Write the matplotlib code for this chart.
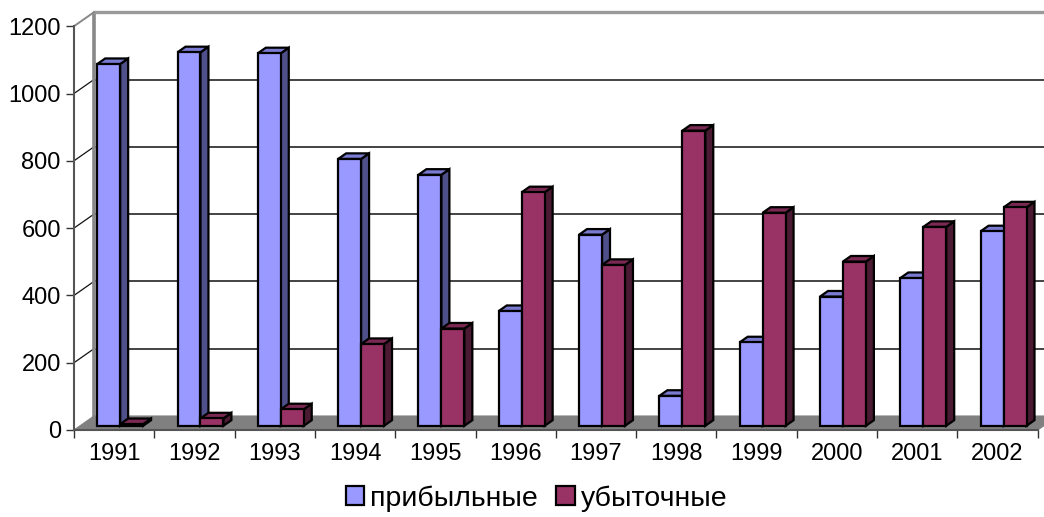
import matplotlib
matplotlib.use("Agg")
import matplotlib.pyplot as plt
from matplotlib.patches import Polygon, Patch

plt.rcParams['font.family'] = ['Liberation Sans', 'DejaVu Sans']

years = ['1991', '1992', '1993', '1994', '1995', '1996',
         '1997', '1998', '1999', '2000', '2001', '2002']
profitable = [1075, 1110, 1107, 793, 746, 341, 568, 89, 248, 384, 439, 578]
unprofitable = [5, 22, 49, 243, 289, 694, 478, 877, 633, 488, 591, 649]
series_names = ['прибыльные', 'убыточные']
yticks = [0, 200, 400, 600, 800, 1000, 1200]

front_cols = ['#9999FF', '#993366']
side_cols = ['#4F4F8A', '#4A1A32']
top_cols = ['#7A7AD0', '#7A2952']

W, H = 1044, 517
fig = plt.figure(figsize=(W / 100, H / 100), dpi=100)

px_cat = 80.31      # pixels per category
px_val = 0.3365     # pixels per value unit
left_px, bottom_px, top_px = 74, 430, 12
xmax = (W - left_px) / px_cat
ymax = (bottom_px - top_px) / px_val
ax = fig.add_axes([left_px / W, (H - bottom_px) / H,
                   (W - left_px) / W, (bottom_px - top_px) / H])
ax.set_xlim(0, xmax)
ax.set_ylim(0, ymax)

D = 20 / px_cat     # full depth in x data units
Dv = 14 / px_val    # full depth in y data units
n = len(years)
vmax = yticks[-1]

# back wall gridlines
for v in yticks[1:-1]:
    ax.plot([D, xmax], [v + Dv, v + Dv], color='#111111', lw=1.1, zorder=1,
            clip_on=False)
# side wall gridlines
for v in yticks[1:-1]:
    ax.plot([0, D], [v, v + Dv], color='#111111', lw=0.9, zorder=1)
# wall borders
ax.plot([D, D], [Dv, vmax + Dv], color='#888888', lw=2.6, zorder=1.5)
ax.plot([D, xmax], [vmax + Dv, vmax + Dv], color='#999999', lw=2.4, zorder=1.5,
        clip_on=False)
ax.plot([0, D], [vmax, vmax + Dv], color='#888888', lw=1.4, zorder=1.5)

# floor
ax.add_patch(Polygon([(0, 0), (n, 0), (n + D, Dv), (D, Dv)], closed=True,
                     facecolor='#808080', edgecolor='#808080', lw=0.8, zorder=2))

# bars
w = 1 / 3.5
gap = 0.75 / 3.5
f0, f1 = 0.3, 0.7
dD = (f1 - f0) * D
dDv = (f1 - f0) * Dv
lw = 1.6
for i in range(n):
    for j, vals in enumerate([profitable, unprofitable]):
        v = vals[i]
        z = 3 + (i * 2 + j) * 0.01
        x0 = i + gap + j * w + f0 * D
        x1 = x0 + w
        y0 = f0 * Dv
        y1 = v + y0
        ax.add_patch(Polygon([(x1, y0), (x1 + dD, y0 + dDv), (x1 + dD, y1 + dDv), (x1, y1)],
                             closed=True, facecolor=side_cols[j], edgecolor='black',
                             lw=lw, zorder=z, joinstyle='miter'))
        ax.add_patch(Polygon([(x0, y1), (x1, y1), (x1 + dD, y1 + dDv), (x0 + dD, y1 + dDv)],
                             closed=True, facecolor=top_cols[j], edgecolor='black',
                             lw=lw, zorder=z + 0.001, joinstyle='miter'))
        ax.bar(x0, v, width=w, bottom=y0, align='edge', color=front_cols[j],
               edgecolor='black', linewidth=lw, zorder=z + 0.002)

# axes
for s in ['top', 'right']:
    ax.spines[s].set_visible(False)
ax.spines['left'].set_bounds(0, vmax)
ax.spines['left'].set_color('#555555')
ax.spines['left'].set_linewidth(1.5)
ax.spines['left'].set_zorder(2.5)
ax.spines['bottom'].set_bounds(0, n)
ax.spines['bottom'].set_color('#555555')
ax.spines['bottom'].set_linewidth(1.5)
ax.spines['bottom'].set_zorder(2.5)

ax.set_yticks(yticks)
ax.set_yticklabels([str(t) for t in yticks], fontsize=17)
ax.tick_params(axis='y', length=5.5, width=1, color='#333333', pad=4)

ax.set_xticks(range(n + 1))
ax.set_xticklabels([''] * (n + 1))
ax.set_xticks([i + 0.5 for i in range(n)], minor=True)
ax.set_xticklabels(years, minor=True, fontsize=17)
ax.tick_params(axis='x', which='major', length=5.5, width=1, color='#333333')
ax.tick_params(axis='x', which='minor', length=0, pad=9)

handles = [Patch(facecolor=front_cols[k], edgecolor='black', lw=1.6,
                 label=series_names[k]) for k in range(2)]
fig.legend(handles=handles, loc='center', bbox_to_anchor=(0.514, 0.036), ncol=2,
           frameon=False, fontsize=20.5, handlelength=0.64, handleheight=0.64,
           handletextpad=0.22, columnspacing=0.65, borderaxespad=0)

fig.savefig('out.png', dpi=100)
